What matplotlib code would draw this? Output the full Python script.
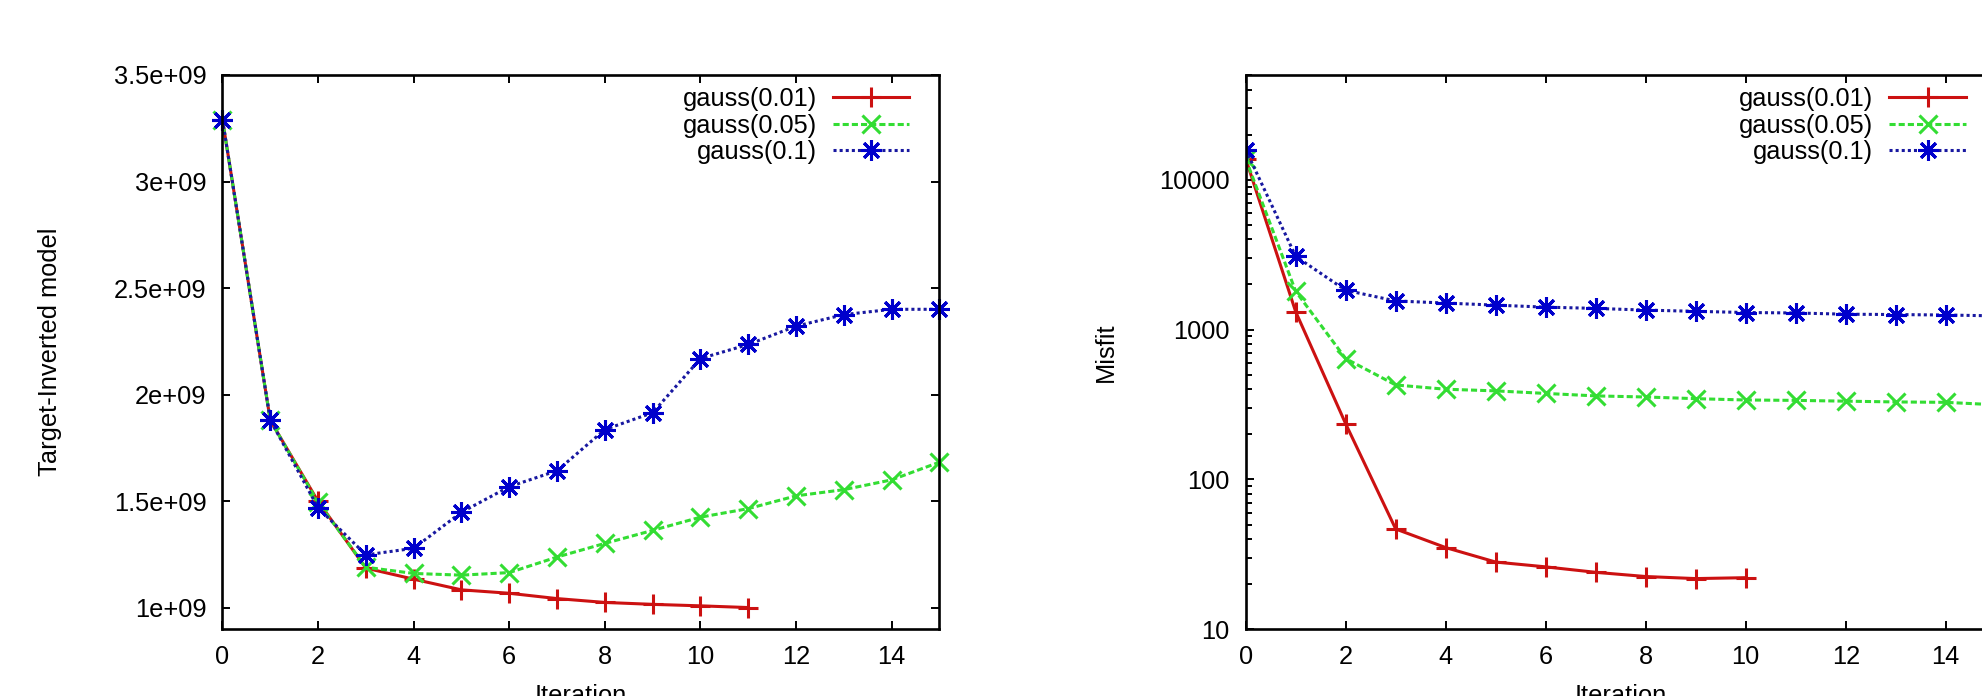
import matplotlib
matplotlib.use("Agg")
import matplotlib.pyplot as plt
import matplotlib.transforms as mtransforms
from matplotlib.ticker import FixedLocator, FuncFormatter, NullFormatter, LogLocator

plt.rcParams['font.family'] = ['Liberation Sans', 'DejaVu Sans']
plt.rcParams['font.size'] = 18

# ---- data -------------------------------------------------------------
labels = ["gauss(0.01)", "gauss(0.05)", "gauss(0.1)"]

# Target-Inverted model per iteration
iter_model_001 = list(range(12))
model_001 = [3.29e9, 1.88e9, 1.50e9, 1.187e9, 1.135e9, 1.085e9, 1.069e9,
             1.044e9, 1.026e9, 1.017e9, 1.010e9, 1.002e9]
iter_model_005 = list(range(16))
model_005 = [3.29e9, 1.88e9, 1.495e9, 1.191e9, 1.162e9, 1.154e9, 1.166e9,
             1.239e9, 1.303e9, 1.364e9, 1.426e9, 1.466e9, 1.526e9, 1.555e9,
             1.601e9, 1.684e9]
iter_model_01 = list(range(16))
model_01 = [3.29e9, 1.881e9, 1.470e9, 1.249e9, 1.280e9, 1.449e9, 1.569e9,
            1.644e9, 1.837e9, 1.916e9, 2.170e9, 2.236e9, 2.322e9, 2.376e9,
            2.401e9, 2.401e9]

# Misfit per iteration
iter_misfit_001 = list(range(11))
misfit_001 = [13800, 1315, 235, 46.7, 35.1, 28.1, 26.1, 24.0, 22.5, 21.8, 22.1]
iter_misfit_005 = list(range(16))
misfit_005 = [13800, 1800, 640, 427, 400, 390, 375, 361, 355, 346, 339, 337,
              333, 329, 327, 315]
iter_misfit_01 = list(range(16))
misfit_01 = [15900, 3080, 1830, 1553, 1503, 1456, 1412, 1385, 1349, 1324,
             1300, 1291, 1267, 1260, 1251, 1235]

x_ticks = [0, 2, 4, 6, 8, 10, 12, 14]
model_ticks = [1.0e9, 1.5e9, 2.0e9, 2.5e9, 3.0e9, 3.5e9]
misfit_ticks = [10, 100, 1000, 10000]

# ---- styles -----------------------------------------------------------
styles = [
    dict(color="#cc1111", linestyle="-", marker="+", markersize=15,
         markeredgewidth=2.2, linewidth=2.2),
    dict(color="#33dd33", linestyle=(0, (2.0, 1.0)), marker="x", markersize=13,
         markeredgewidth=2.2, linewidth=2.2),
    dict(color="#1818a0", linestyle=(0, (1.0, 1.0)), marker=(8, 2, 0),
         markersize=15, markeredgewidth=2.2, markeredgecolor="#0000cc",
         linewidth=2.2),
]

W, H = 1983, 696
fig = plt.figure(figsize=(W / 100, H / 100), dpi=100)

ax1 = fig.add_axes([222.5 / W, (H - 629.3) / H, 717 / W, 554.3 / H])
ax2 = fig.add_axes([1245.7 / W, (H - 629.3) / H, 750 / W, 554.3 / H])


def style_axes(ax):
    for sp in ax.spines.values():
        sp.set_linewidth(1.9)
    ax.tick_params(which="both", direction="in", top=True, right=True,
                   width=1.4, labelsize=18.3, pad=11.5)
    ax.tick_params(which="major", length=6)
    ax.tick_params(which="minor", length=4.2)
    ax.set_xlim(0, 15)
    ax.xaxis.set_major_locator(FixedLocator(x_ticks))
    ax.xaxis.set_major_formatter(FuncFormatter(lambda v, p: "%d" % v))


def add_legend(ax, handles):
    trans = mtransforms.offset_copy(ax.transAxes, fig=fig, x=-30, y=-12,
                                    units="dots")
    ax.legend(handles, labels, loc="upper right", bbox_to_anchor=(1, 1),
              bbox_transform=trans, frameon=False, markerfirst=False,
              handlelength=3.0, handletextpad=0.65, labelspacing=0.1,
              borderpad=0, borderaxespad=0, fontsize=18.3, numpoints=1)


# ---- left panel: Target-Inverted model --------------------------------
h1 = []
for xs, ys, st in zip([iter_model_001, iter_model_005, iter_model_01],
                      [model_001, model_005, model_01], styles):
    (ln,) = ax1.plot(xs, ys, clip_on=False, **st)
    h1.append(ln)
style_axes(ax1)
ax1.set_ylim(0.9e9, 3.5e9)
ax1.yaxis.set_major_locator(FixedLocator(model_ticks))
ax1.yaxis.set_major_formatter(FuncFormatter(lambda v, p: "%g" % v))
ax1.set_ylabel("Target-Inverted model", fontsize=18.3)
ax1.yaxis.set_label_coords((62 - 222.5) / 717, 0.5)
ax1.set_xlabel("Iteration", fontsize=18.3)
ax1.xaxis.set_label_coords(0.5, -0.098)
add_legend(ax1, h1)

# ---- right panel: Misfit (log scale) ----------------------------------
h2 = []
for xs, ys, st in zip([iter_misfit_001, iter_misfit_005, iter_misfit_01],
                      [misfit_001, misfit_005, misfit_01], styles):
    (ln,) = ax2.plot(xs, ys, **st)
    h2.append(ln)
ax2.set_yscale("log")
style_axes(ax2)
ax2.set_ylim(10, 5e4)
ax2.yaxis.set_major_locator(FixedLocator(misfit_ticks))
ax2.yaxis.set_major_formatter(FuncFormatter(lambda v, p: "%g" % v))
ax2.yaxis.set_minor_locator(LogLocator(base=10, subs=range(2, 10)))
ax2.yaxis.set_minor_formatter(NullFormatter())
ax2.set_ylabel("Misfit", fontsize=18.3)
ax2.yaxis.set_label_coords((1118 - 1245.7) / 750, 0.5)
ax2.set_xlabel("Iteration", fontsize=18.3)
ax2.xaxis.set_label_coords(0.5, -0.098)
add_legend(ax2, h2)

fig.savefig("out.png", dpi=100)
